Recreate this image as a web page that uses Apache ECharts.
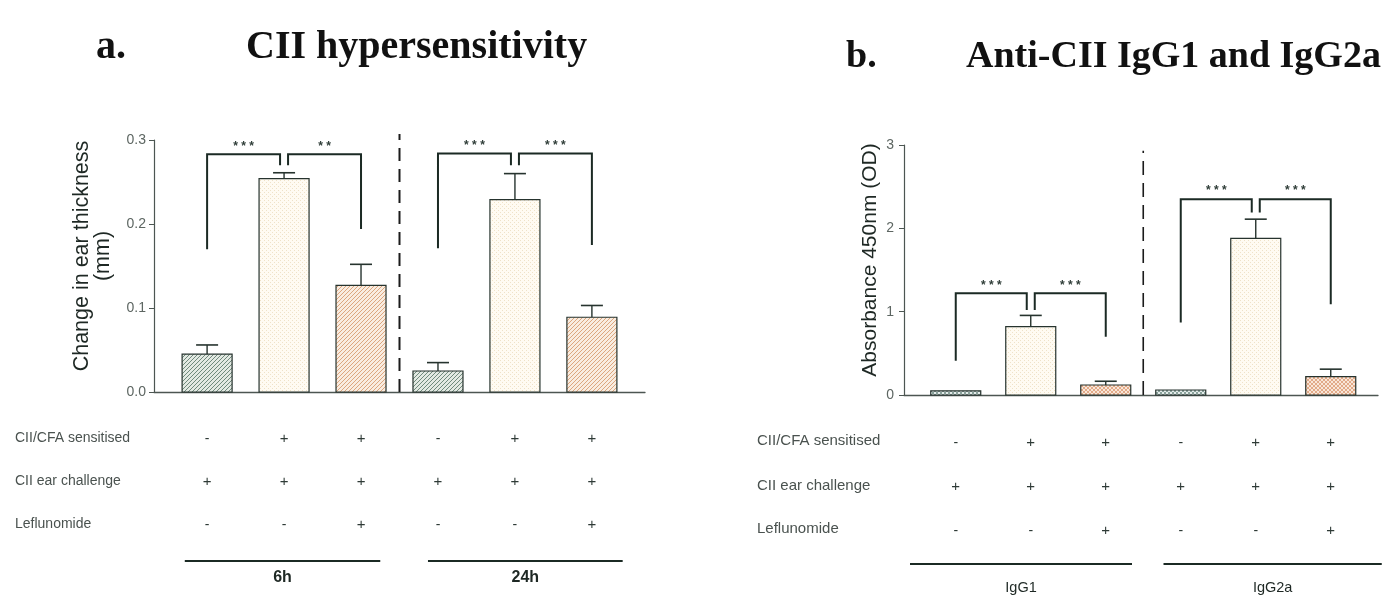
<!DOCTYPE html>
<html><head><meta charset="utf-8">
<script src="https://cdn.jsdelivr.net/npm/echarts@6/dist/echarts.min.js"></script>
<style>html,body{margin:0;padding:0;background:#fff}#c{width:1392px;height:597px}</style>
</head><body><div id="c"></div>
<script>
// ---------- data ----------
const rowLabels = ['CII/CFA sensitised', 'CII ear challenge', 'Leflunomide'];
const sensitised = ['-', '+', '+', '-', '+', '+'];
const challenge = ['+', '+', '+', '+', '+', '+'];
const leflunomide = ['-', '-', '+', '-', '-', '+'];

const meansA = [0.045, 0.254, 0.127, 0.025, 0.229, 0.089];
const semA = [0.011, 0.007, 0.025, 0.010, 0.031, 0.014];
const meansB = [0.05, 0.82, 0.12, 0.06, 1.88, 0.22];
const semB = [0, 0.135, 0.045, 0, 0.23, 0.09];

// [fromBar, toBar, topY, fromLegEndY, toLegEndY, stars]
const bracketsA = [[0, 1, 0.283, 0.170, 0.270, '***'], [1, 2, 0.283, 0.270, 0.194, '**'],
                   [3, 4, 0.284, 0.171, 0.270, '***'], [4, 5, 0.284, 0.270, 0.175, '***']];
const bracketsB = [[0, 1, 1.22, 0.41, 1.02, '***'], [1, 2, 1.22, 1.02, 0.70, '***'],
                   [3, 4, 2.35, 0.87, 2.19, '***'], [4, 5, 2.35, 2.19, 1.09, '***']];

// group names and their spans [fromX, toX] in bar-index units
const groupNamesA = ['6h', '24h'];
const groupSpansA = [[-0.29, 2.25], [2.87, 5.40]];
const groupNamesB = ['IgG1', 'IgG2a'];
const groupSpansB = [[-0.61, 2.35], [2.77, 5.68]];

const yTicksA = [0, 0.1, 0.2, 0.3];
const yTicksB = [0, 1, 2, 3];
const dividerX = 2.5;

// ---------- styles ----------
function pattern(bg, fg, step, kind) {
  const c = document.createElement('canvas');
  c.width = c.height = step;
  const g = c.getContext('2d');
  g.fillStyle = bg; g.fillRect(0, 0, step, step);
  g.strokeStyle = fg; g.fillStyle = fg; g.lineWidth = 1;
  if (kind === 'diag' || kind === 'cross') {
    for (const o of [-step, 0, step]) {
      g.beginPath(); g.moveTo(o, step); g.lineTo(o + step, 0); g.stroke();
    }
  }
  if (kind === 'cross') {
    for (const o of [-step, 0, step]) {
      g.beginPath(); g.moveTo(o, 0); g.lineTo(o + step, step); g.stroke();
    }
  }
  if (kind === 'dots') {
    g.fillRect(0, 0, 1, 1); g.fillRect(step / 2, step / 2, 1, 1);
  }
  if (kind === 'checker') {
    g.fillRect(0, 0, step / 2, step / 2); g.fillRect(step / 2, step / 2, step / 2, step / 2);
  }
  return { image: c, repeat: 'repeat' };
}
const fillsA = [
  pattern('#e3e9e3', '#6f8a7c', 4, 'diag'),
  pattern('#fffbf2', '#efe2c8', 4, 'dots'),
  pattern('#f9ece0', '#dca67e', 4, 'diag')
];
const fillsB = [
  pattern('#e4ebea', '#8aa39c', 4, 'checker'),
  pattern('#fffbf2', '#efe2c8', 4, 'dots'),
  pattern('#f9e6d8', '#e2aa88', 4, 'cross')
];
const INK = '#26332e';

// ---------- render helpers ----------
function barItem(fills) {
  return function (params, api) {
    const i = api.value(0), v = api.value(1), e = api.value(2);
    const base = api.coord([i, 0]);
    const top = api.coord([i, v]);
    const hw = 25;
    const children = [{
      type: 'rect',
      shape: { x: base[0] - hw, y: top[1], width: hw * 2, height: base[1] - top[1] },
      style: { fill: fills[i % 3], stroke: INK, lineWidth: 1.2 }
    }];
    if (e > 0) {
      const et = api.coord([i, v + e]);
      children.push({ type: 'line', shape: { x1: top[0], y1: top[1], x2: et[0], y2: et[1] },
        style: { stroke: INK, lineWidth: 1.4 } });
      children.push({ type: 'line', shape: { x1: et[0] - 11, y1: et[1], x2: et[0] + 11, y2: et[1] },
        style: { stroke: INK, lineWidth: 1.6 } });
    }
    return { type: 'group', children };
  };
}
function bracketItem(list) {
  return function (params, api) {
    const d = list[params.dataIndex];
    const a = d[0], b = d[1];
    const pa = api.coord([a, d[3]]), pb = api.coord([b, d[4]]);
    const pt = api.coord([a, d[2]]);
    const xa = pa[0] + (a % 3 === 1 ? 4 : 0);
    const xb = pb[0] - (b % 3 === 1 ? 4 : 0);
    return {
      type: 'group',
      children: [
        { type: 'polyline', shape: { points: [[xa, pa[1]], [xa, pt[1]], [xb, pt[1]], [xb, pb[1]]] },
          style: { stroke: '#1b2a24', lineWidth: 2, fill: null } },
        { type: 'text', x: (xa + xb) / 2, y: pt[1] - 2,
          style: { text: d[5].split('').join(' '), fill: '#2f3d38', font: 'bold 12px Arial',
                   align: 'center', verticalAlign: 'bottom' } }
      ]
    };
  };
}
function dividerItem(topVal, width, dash) {
  return function (params, api) {
    const x = api.value(0);
    const p0 = api.coord([x, 0]), p1 = api.coord([x, topVal]);
    return { type: 'line', shape: { x1: p0[0], y1: p0[1], x2: p1[0], y2: p1[1] },
      style: { stroke: '#1b1b1b', lineWidth: width, lineDash: dash } };
  };
}
function tableItem(rowsY) {
  return function (params, api) {
    const i = api.value(0);
    const x = api.coord([i, 0])[0];
    const cols = [sensitised[i], challenge[i], leflunomide[i]];
    return {
      type: 'group',
      children: cols.map((s, r) => ({
        type: 'text', x: x, y: rowsY[r],
        style: { text: s, fill: '#2e3a36', font: (s === '+' ? '15px' : '14px') + ' Arial',
                 align: 'center', verticalAlign: 'middle' }
      }))
    };
  };
}
function groupItem(names, spans, lineY, labelY, labelFont) {
  return function (params, api) {
    const k = params.dataIndex;
    const x1 = api.coord([spans[k][0], 0])[0], x2 = api.coord([spans[k][1], 0])[0];
    return {
      type: 'group',
      children: [
        { type: 'line', shape: { x1, y1: lineY, x2, y2: lineY }, style: { stroke: '#1b2a24', lineWidth: 2.2 } },
        { type: 'text', x: (x1 + x2) / 2, y: labelY,
          style: { text: names[k], fill: '#1e2824', font: labelFont, align: 'center', verticalAlign: 'middle' } }
      ]
    };
  };
}

const idx = [0, 1, 2, 3, 4, 5];
const chart = echarts.init(document.getElementById('c'), null, { renderer: 'canvas' });

const axisTxt = { color: '#5d6662', fontSize: 14, fontFamily: 'Arial' };
const hiddenX = { axisLabel: { show: false }, axisTick: { show: false }, splitLine: { show: false },
  axisLine: { onZero: false, lineStyle: { color: '#4c5652', width: 1.3 } } };
chart.setOption({
  animation: false,
  backgroundColor: '#ffffff',
  grid: [
    { left: 154, top: 140, width: 491, height: 252 },
    { left: 904, top: 145, width: 474, height: 250 }
  ],
  xAxis: [
    Object.assign({ gridIndex: 0, type: 'value', min: -0.69, max: 5.69 }, hiddenX),
    Object.assign({ gridIndex: 1, type: 'value', min: -0.69, max: 5.63 }, hiddenX)
  ],
  yAxis: [
    { gridIndex: 0, type: 'value', min: yTicksA[0], max: yTicksA[yTicksA.length - 1], interval: 0.1,
      name: 'Change in ear thickness\n(mm)', nameLocation: 'middle', nameGap: 40, nameRotate: 90,
      nameTextStyle: { color: '#1e2824', fontSize: 21.5, fontFamily: 'Arial', lineHeight: 21, padding: [0, 0, 0, 20] },
      axisLine: { show: true, onZero: false, lineStyle: { color: '#4c5652', width: 1.2 } },
      axisTick: { show: true, length: 5, lineStyle: { color: '#4c5652' } },
      axisLabel: Object.assign({ margin: 8, formatter: v => v.toFixed(1) }, axisTxt),
      splitLine: { show: false } },
    { gridIndex: 1, type: 'value', min: yTicksB[0], max: yTicksB[yTicksB.length - 1], interval: 1,
      name: 'Absorbance 450nm (OD)', nameLocation: 'middle', nameGap: 23, nameRotate: 90,
      nameTextStyle: { color: '#1e2824', fontSize: 21, fontFamily: 'Arial', padding: [0, 0, 0, 20] },
      axisLine: { show: true, onZero: false, lineStyle: { color: '#4c5652', width: 1.2 } },
      axisTick: { show: true, length: 5, lineStyle: { color: '#4c5652' } },
      axisLabel: Object.assign({ margin: 10 }, axisTxt),
      splitLine: { show: false } }
  ],
  series: [
    { type: 'custom', xAxisIndex: 0, yAxisIndex: 0, renderItem: barItem(fillsA),
      data: idx.map(i => [i, meansA[i], semA[i]]) },
    { type: 'custom', xAxisIndex: 1, yAxisIndex: 1, renderItem: barItem(fillsB),
      data: idx.map(i => [i, meansB[i], semB[i]]) },
    { type: 'custom', xAxisIndex: 0, yAxisIndex: 0, renderItem: dividerItem(0.307, 2, [13, 8]), data: [[dividerX]], clip: false },
    { type: 'custom', xAxisIndex: 1, yAxisIndex: 1, renderItem: dividerItem(2.93, 1.6, [14, 8]), data: [[dividerX]], clip: false },
    { type: 'custom', xAxisIndex: 0, yAxisIndex: 0, renderItem: bracketItem(bracketsA), data: bracketsA.map(b => [b[0], b[2]]), clip: false },
    { type: 'custom', xAxisIndex: 1, yAxisIndex: 1, renderItem: bracketItem(bracketsB), data: bracketsB.map(b => [b[0], b[2]]), clip: false },
    { type: 'custom', xAxisIndex: 0, yAxisIndex: 0, renderItem: tableItem([439, 482, 525]), data: idx.map(i => [i]), clip: false },
    { type: 'custom', xAxisIndex: 1, yAxisIndex: 1, renderItem: tableItem([443, 487, 531]), data: idx.map(i => [i]), clip: false },
    { type: 'custom', xAxisIndex: 0, yAxisIndex: 0, renderItem: groupItem(groupNamesA, groupSpansA, 561, 578, 'bold 16px Arial'),
      data: groupSpansA.map(s => [s[0]]), clip: false },
    { type: 'custom', xAxisIndex: 1, yAxisIndex: 1, renderItem: groupItem(groupNamesB, groupSpansB, 564, 588, '14.5px Arial'),
      data: groupSpansB.map(s => [s[0]]), clip: false }
  ],
  graphic: [
    { type: 'text', left: 96, top: 28, style: { text: 'a.', font: 'bold 40px "Liberation Serif", "Times New Roman", serif', fill: '#111' } },
    { type: 'text', left: 246, top: 28, style: { text: 'CII hypersensitivity', font: 'bold 40px "Liberation Serif", "Times New Roman", serif', fill: '#111' } },
    { type: 'text', left: 846, top: 38, style: { text: 'b.', font: 'bold 38px "Liberation Serif", "Times New Roman", serif', fill: '#111' } },
    { type: 'text', left: 966, top: 38, style: { text: 'Anti-CII IgG1 and IgG2a', font: 'bold 38px "Liberation Serif", "Times New Roman", serif', fill: '#111' } }
  ].concat(rowLabels.map((t, r) => ({ type: 'text', left: 15, top: [439, 482, 525][r] - 8,
      style: { text: t, font: '14px Arial', fill: '#4a524f' } })))
   .concat(rowLabels.map((t, r) => ({ type: 'text', left: 757, top: [442, 487, 530][r] - 9,
      style: { text: t, font: '15px Arial', fill: '#4a524f' } })))
});
</script>
</body></html>
